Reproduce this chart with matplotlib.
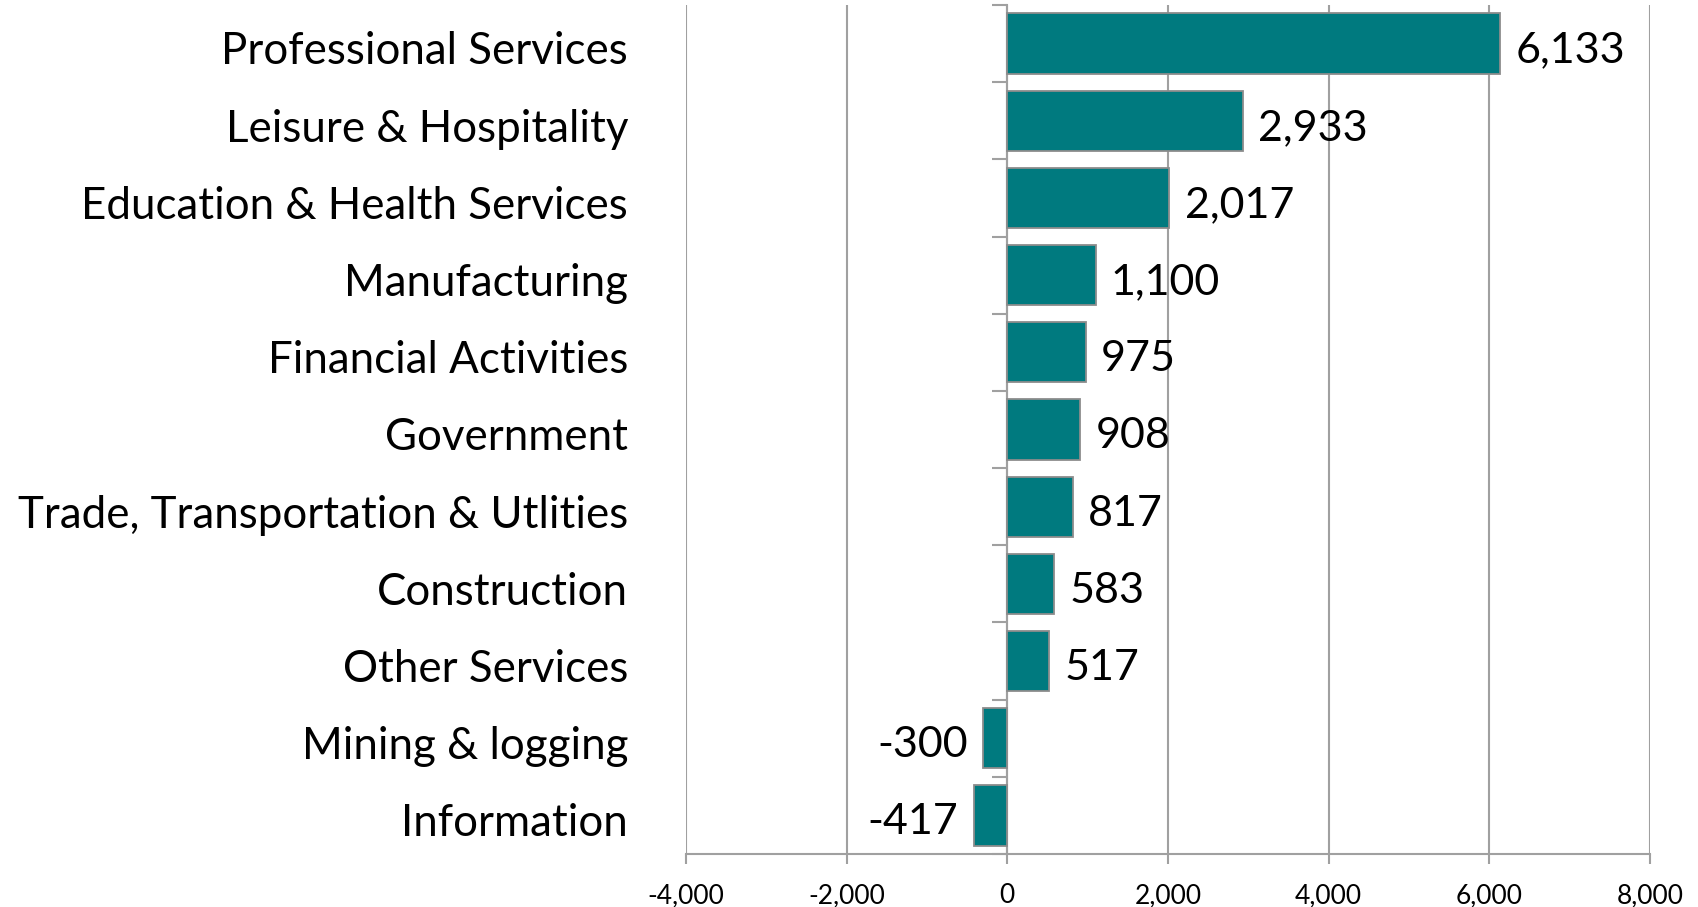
import numpy as np
import matplotlib.pyplot as plt
from matplotlib.ticker import FuncFormatter

plt.rcParams['font.family'] = ['Lato', 'DejaVu Sans']

sectors = ["Professional Services", "Leisure & Hospitality", "Education & Health Services",
           "Manufacturing", "Financial Activities", "Government",
           "Trade, Transportation & Utlities", "Construction", "Other Services",
           "Mining & logging", "Information"]
jobs = [6133, 2933, 2017, 1100, 975, 908, 817, 583, 517, -300, -417]

fig = plt.figure(figsize=(16.98, 9.07), dpi=100)
ax = fig.add_axes([0.404, 0.0584, 0.5677, 0.9361])

y = np.arange(len(sectors))
ax.barh(y, jobs, height=0.78, color='#007a7f', edgecolor='#8c8c8c', linewidth=1.3, zorder=3)

ax.set_xlim(-4000, 8000)
ax.set_ylim(len(sectors) - 0.5, -0.5)
ax.set_xticks(np.arange(-4000, 8001, 2000))
ax.xaxis.set_major_formatter(FuncFormatter(lambda v, p: f"{int(v):,}"))
ax.grid(axis='x', color='#a0a0a0', linewidth=1.5, zorder=0)
ax.tick_params(axis='x', length=7, width=1.5, color='#a0a0a0', labelsize=19, pad=14)

for s in ['top', 'right']:
    ax.spines[s].set_visible(False)
ax.spines['bottom'].set_color('#a0a0a0')
ax.spines['bottom'].set_linewidth(1.5)
ax.spines['left'].set_position(('data', 0))
ax.spines['left'].set_color('#a0a0a0')
ax.spines['left'].set_linewidth(1.5)

# tick marks on category boundaries, names on the far left
ax.set_yticks(np.arange(len(sectors) + 1) - 0.5)
ax.set_yticklabels([])
ax.tick_params(axis='y', length=11, width=1.5, color='#a0a0a0')
for i, name in enumerate(sectors):
    ax.annotate(name, (-0.06, i), xycoords=('axes fraction', 'data'), xytext=(0, -6),
                textcoords='offset points', ha='right', va='center', fontsize=31.6)

for i, v in enumerate(jobs):
    if v >= 0:
        ax.annotate(f"{v:,}", (v, i), xytext=(11, -5), textcoords='offset points',
                    ha='left', va='center', fontsize=31)
    else:
        ax.annotate(f"{v:,}", (v, i), xytext=(-11, -5), textcoords='offset points',
                    ha='right', va='center', fontsize=31)

fig.savefig('out.png', dpi=100)
